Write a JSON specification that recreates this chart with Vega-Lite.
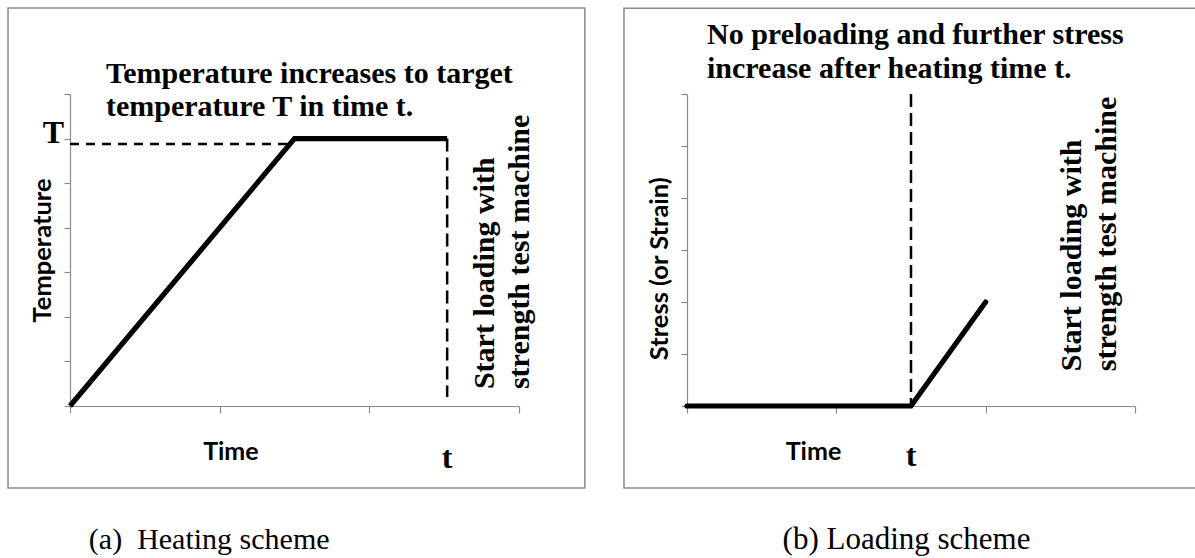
{
  "$schema": "https://vega.github.io/schema/vega-lite/v6.json",
  "background": "white",
  "padding": {"left": 7, "top": 7, "right": 0, "bottom": 0},
  "bounds": "flush",
  "spacing": 168,
  "config": {
    "view": {"stroke": null},
    "axis": {
      "grid": false,
      "labels": false,
      "title": null,
      "domainColor": "#8a8a8a",
      "tickColor": "#8a8a8a",
      "domainWidth": 1.2,
      "tickWidth": 1.2
    }
  },
  "datasets": {
    "heating": [
      {"time": 0, "temperature": 0},
      {"time": 1.5, "temperature": 6},
      {"time": 2.52, "temperature": 6}
    ],
    "loading": [
      {"time": 0, "stress": 0},
      {"time": 1.5, "stress": 0},
      {"time": 2, "stress": 2}
    ]
  },
  "hconcat": [
    {
      "width": 449,
      "height": 312,
      "layer": [
        {
          "data": {"name": "heating"},
          "mark": {"type": "line", "color": "black", "strokeWidth": 5.2, "strokeCap": "butt", "strokeJoin": "miter"},
          "encoding": {
            "x": {"field": "time", "type": "quantitative", "scale": {"domain": [0, 3], "nice": false, "zero": false}, "axis": {"values": [0, 1, 2, 3], "tickSize": 7}},
            "y": {"field": "temperature", "type": "quantitative", "scale": {"domain": [0, 7], "nice": false, "zero": false}, "axis": {"values": [0, 1, 2, 3, 4, 5, 6, 7], "tickSize": 6}}
          }
        },
        {
          "data": {"values": [{}]},
          "mark": {"type": "rule", "color": "black", "strokeWidth": 2.5, "strokeDash": [9, 7]},
          "encoding": {"x": {"datum": 0, "type": "quantitative"}, "x2": {"datum": 1.49}, "y": {"datum": 5.88, "type": "quantitative"}}
        },
        {
          "data": {"values": [{}]},
          "mark": {"type": "rule", "color": "black", "strokeWidth": 2.5, "strokeDash": [13, 6]},
          "encoding": {"x": {"datum": 2.52, "type": "quantitative"}, "y": {"datum": 6, "type": "quantitative"}, "y2": {"datum": 0.2}}
        },
        {
          "data": {"values": [{}]},
          "mark": {"type": "rect", "fillOpacity": 0, "stroke": "#8a8a8a", "strokeWidth": 1.5},
          "encoding": {"x": {"datum": -0.414, "type": "quantitative"}, "x2": {"datum": 3.44}, "y": {"datum": -1.84, "type": "quantitative"}, "y2": {"datum": 8.93}}
        },
        {
          "data": {"values": [{}]},
          "mark": {"type": "text", "text": ["Temperature increases to target", "temperature T in time t."], "font": "Liberation Serif", "fontWeight": "bold", "fontSize": 30, "lineHeight": 33, "align": "left", "baseline": "alphabetic", "color": "black"},
          "encoding": {"x": {"datum": 0.24, "type": "quantitative"}, "y": {"datum": 7.25, "type": "quantitative"}}
        },
        {
          "data": {"values": [{}]},
          "mark": {"type": "text", "text": ["Start loading with", "strength test machine"], "font": "Liberation Serif", "fontWeight": "bold", "fontSize": 30, "lineHeight": 35, "angle": 270, "align": "left", "baseline": "alphabetic", "color": "black"},
          "encoding": {"x": {"datum": 2.83, "type": "quantitative"}, "y": {"datum": 0.38, "type": "quantitative"}}
        },
        {
          "data": {"values": [{}]},
          "mark": {"type": "text", "text": "T", "font": "Liberation Serif", "fontWeight": "bold", "fontSize": 32, "align": "right", "baseline": "alphabetic", "color": "black"},
          "encoding": {"x": {"datum": -0.04, "type": "quantitative"}, "y": {"datum": 5.9, "type": "quantitative"}}
        },
        {
          "data": {"values": [{}]},
          "mark": {"type": "text", "text": "t", "font": "Liberation Serif", "fontWeight": "bold", "fontSize": 32, "align": "center", "baseline": "alphabetic", "color": "black"},
          "encoding": {"x": {"datum": 2.52, "type": "quantitative"}, "y": {"datum": -1.39, "type": "quantitative"}}
        },
        {
          "data": {"values": [{}]},
          "mark": {"type": "text", "text": "Temperature", "font": "Lato", "fontWeight": "bold", "fontSize": 25.5, "angle": 270, "align": "center", "baseline": "alphabetic", "color": "black"},
          "encoding": {"x": {"datum": -0.127, "type": "quantitative"}, "y": {"datum": 3.49, "type": "quantitative"}}
        },
        {
          "data": {"values": [{}]},
          "mark": {"type": "text", "text": "Time", "font": "Lato", "fontWeight": "bold", "fontSize": 25, "align": "center", "baseline": "alphabetic", "color": "black"},
          "encoding": {"x": {"datum": 1.075, "type": "quantitative"}, "y": {"datum": -1.21, "type": "quantitative"}}
        },
        {
          "data": {"values": [{}]},
          "mark": {"type": "text", "text": "(a)\u00a0 Heating scheme", "font": "Liberation Serif", "fontSize": 30, "align": "center", "baseline": "alphabetic", "color": "black"},
          "encoding": {"x": {"datum": 0.93, "type": "quantitative"}, "y": {"datum": -3.21, "type": "quantitative"}}
        }
      ]
    },
    {
      "width": 448,
      "height": 312,
      "layer": [
        {
          "data": {"name": "loading"},
          "mark": {"type": "line", "color": "black", "strokeWidth": 5.2, "strokeCap": "round", "strokeJoin": "miter"},
          "encoding": {
            "x": {"field": "time", "type": "quantitative", "scale": {"domain": [0, 3], "nice": false, "zero": false}, "axis": {"values": [0, 1, 2, 3], "tickSize": 7}},
            "y": {"field": "stress", "type": "quantitative", "scale": {"domain": [0, 6], "nice": false, "zero": false}, "axis": {"values": [0, 1, 2, 3, 4, 5, 6], "tickSize": 6}}
          }
        },
        {
          "data": {"values": [{}]},
          "mark": {"type": "rule", "color": "black", "strokeWidth": 2.5, "strokeDash": [13, 6]},
          "encoding": {"x": {"datum": 1.5, "type": "quantitative"}, "y": {"datum": 6, "type": "quantitative"}, "y2": {"datum": 0}}
        },
        {
          "data": {"values": [{}]},
          "mark": {"type": "rect", "fillOpacity": 0, "stroke": "#8a8a8a", "strokeWidth": 1.5},
          "encoding": {"x": {"datum": -0.422, "type": "quantitative"}, "x2": {"datum": 3.42}, "y": {"datum": -1.577, "type": "quantitative"}, "y2": {"datum": 7.65}}
        },
        {
          "data": {"values": [{}]},
          "mark": {"type": "text", "text": ["No preloading and further stress", "increase after heating time t."], "font": "Liberation Serif", "fontWeight": "bold", "fontSize": 30, "lineHeight": 34, "align": "left", "baseline": "alphabetic", "color": "black"},
          "encoding": {"x": {"datum": 0.134, "type": "quantitative"}, "y": {"datum": 6.96, "type": "quantitative"}}
        },
        {
          "data": {"values": [{}]},
          "mark": {"type": "text", "text": ["Start loading with", "strength test machine"], "font": "Liberation Serif", "fontWeight": "bold", "fontSize": 30, "lineHeight": 35, "angle": 270, "align": "left", "baseline": "alphabetic", "color": "black"},
          "encoding": {"x": {"datum": 2.64, "type": "quantitative"}, "y": {"datum": 0.67, "type": "quantitative"}}
        },
        {
          "data": {"values": [{}]},
          "mark": {"type": "text", "text": "t", "font": "Liberation Serif", "fontWeight": "bold", "fontSize": 32, "align": "center", "baseline": "alphabetic", "color": "black"},
          "encoding": {"x": {"datum": 1.5, "type": "quantitative"}, "y": {"datum": -1.15, "type": "quantitative"}}
        },
        {
          "data": {"values": [{}]},
          "mark": {"type": "text", "text": "Stress (or Strain)", "font": "Lato", "fontWeight": "bold", "fontSize": 25.5, "angle": 270, "align": "center", "baseline": "alphabetic", "color": "black"},
          "encoding": {"x": {"datum": -0.127, "type": "quantitative"}, "y": {"datum": 2.64, "type": "quantitative"}}
        },
        {
          "data": {"values": [{}]},
          "mark": {"type": "text", "text": "Time", "font": "Lato", "fontWeight": "bold", "fontSize": 25, "align": "center", "baseline": "alphabetic", "color": "black"},
          "encoding": {"x": {"datum": 0.847, "type": "quantitative"}, "y": {"datum": -1.04, "type": "quantitative"}}
        },
        {
          "data": {"values": [{}]},
          "mark": {"type": "text", "text": "(b) Loading scheme", "font": "Liberation Serif", "fontSize": 31, "align": "center", "baseline": "alphabetic", "color": "black"},
          "encoding": {"x": {"datum": 1.47, "type": "quantitative"}, "y": {"datum": -2.75, "type": "quantitative"}}
        }
      ]
    }
  ]
}
